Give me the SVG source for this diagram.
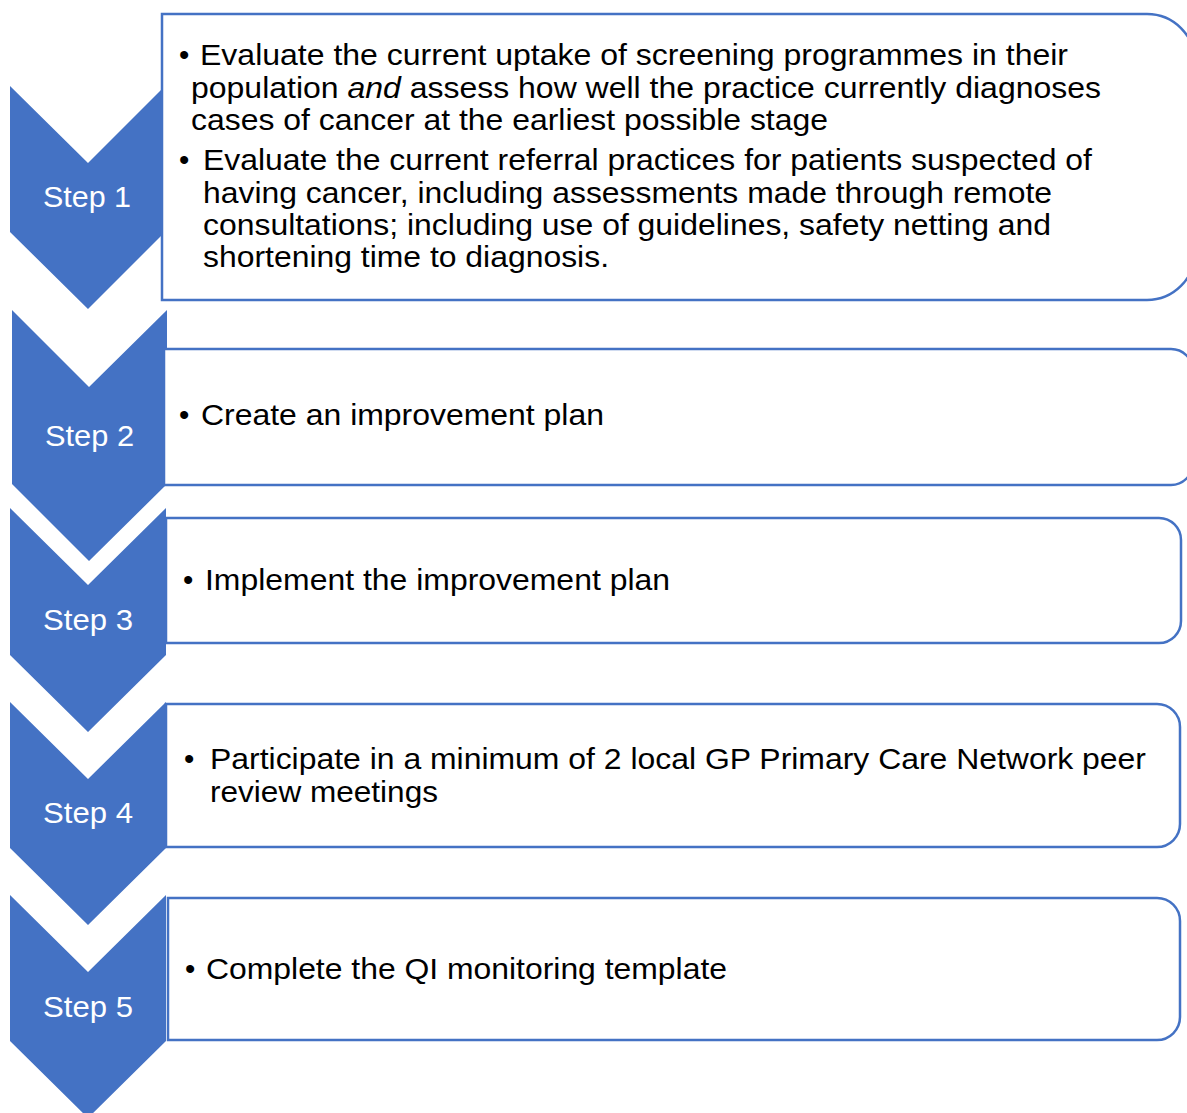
<svg xmlns="http://www.w3.org/2000/svg" width="1187" height="1113" viewBox="0 0 1187 1113">
<style>
.chev{fill:#4472C4;}
.box{fill:#ffffff;stroke:#4472C4;stroke-width:2.5;}
.lbl{font-family:"Liberation Sans",Arial,sans-serif;font-size:29px;fill:#ffffff;}
.t{font-family:"Liberation Sans",Arial,sans-serif;font-size:29.5px;fill:#000000;}
</style>
<rect width="1187" height="1113" fill="#ffffff"/>
<g id="step1">
<polygon class="chev" points="10,86 88,163 165,86 165,232 88,309 10,232"/>
<path class="box" d="M162,14 H1147 A48,48 0 0 1 1195,62 V252 A48,48 0 0 1 1147,300 H162 Z"/>
<text class="lbl" x="43" y="207" textLength="88" lengthAdjust="spacingAndGlyphs">Step 1</text>
<text class="t" x="179" y="65">•</text>
<text class="t" x="200" y="65" textLength="868" lengthAdjust="spacingAndGlyphs">Evaluate the current uptake of screening programmes in their</text>
<text class="t" x="191" y="98" textLength="910" lengthAdjust="spacingAndGlyphs">population <tspan font-style="italic">and</tspan> assess how well the practice currently diagnoses</text>
<text class="t" x="191" y="130" textLength="637" lengthAdjust="spacingAndGlyphs">cases of cancer at the earliest possible stage</text>
<text class="t" x="179" y="170">•</text>
<text class="t" x="203" y="170" textLength="889" lengthAdjust="spacingAndGlyphs">Evaluate the current referral practices for patients suspected of</text>
<text class="t" x="203" y="203" textLength="849" lengthAdjust="spacingAndGlyphs">having cancer, including assessments made through remote</text>
<text class="t" x="203" y="235" textLength="848" lengthAdjust="spacingAndGlyphs">consultations; including use of guidelines, safety netting and</text>
<text class="t" x="203" y="267" textLength="406" lengthAdjust="spacingAndGlyphs">shortening time to diagnosis.</text>
</g>
<g id="step2">
<polygon class="chev" points="12,310 89,387 167,310 167,484 89,561 12,484"/>
<path class="box" d="M164,349 H1171 A22,22 0 0 1 1193,371 V463 A22,22 0 0 1 1171,485 H164 Z"/>
<text class="lbl" x="45" y="446" textLength="89" lengthAdjust="spacingAndGlyphs">Step 2</text>
<text class="t" x="179" y="425">•</text>
<text class="t" x="201" y="425" textLength="403" lengthAdjust="spacingAndGlyphs">Create an improvement plan</text>
</g>
<g id="step3">
<polygon class="chev" points="10,508 88,585 166,508 166,655 88,732 10,655"/>
<path class="box" d="M166,518 H1159 A22,22 0 0 1 1181,540 V621 A22,22 0 0 1 1159,643 H166 Z"/>
<text class="lbl" x="43" y="630" textLength="90" lengthAdjust="spacingAndGlyphs">Step 3</text>
<text class="t" x="183" y="590">•</text>
<text class="t" x="205" y="590" textLength="465" lengthAdjust="spacingAndGlyphs">Implement the improvement plan</text>
</g>
<g id="step4">
<polygon class="chev" points="10,702 88,779 166,702 166,848 88,925 10,848"/>
<path class="box" d="M166,704 H1157 A23,23 0 0 1 1180,727 V824 A23,23 0 0 1 1157,847 H166 Z"/>
<text class="lbl" x="43" y="823" textLength="90" lengthAdjust="spacingAndGlyphs">Step 4</text>
<text class="t" x="184" y="769" font-size="22">•</text>
<text class="t" x="210" y="769" textLength="936" lengthAdjust="spacingAndGlyphs">Participate in a minimum of 2 local GP Primary Care Network peer</text>
<text class="t" x="210" y="802" textLength="228" lengthAdjust="spacingAndGlyphs">review meetings</text>
</g>
<g id="step5">
<polygon class="chev" points="10,895 88,972 166,895 166,1041 88,1118 10,1041"/>
<path class="box" d="M168,898 H1157 A23,23 0 0 1 1180,921 V1017 A23,23 0 0 1 1157,1040 H168 Z"/>
<text class="lbl" x="43" y="1017" textLength="90" lengthAdjust="spacingAndGlyphs">Step 5</text>
<text class="t" x="185" y="979">•</text>
<text class="t" x="206" y="979" textLength="521" lengthAdjust="spacingAndGlyphs">Complete the QI monitoring template</text>
</g>
<g id="connectors"></g>
</svg>
